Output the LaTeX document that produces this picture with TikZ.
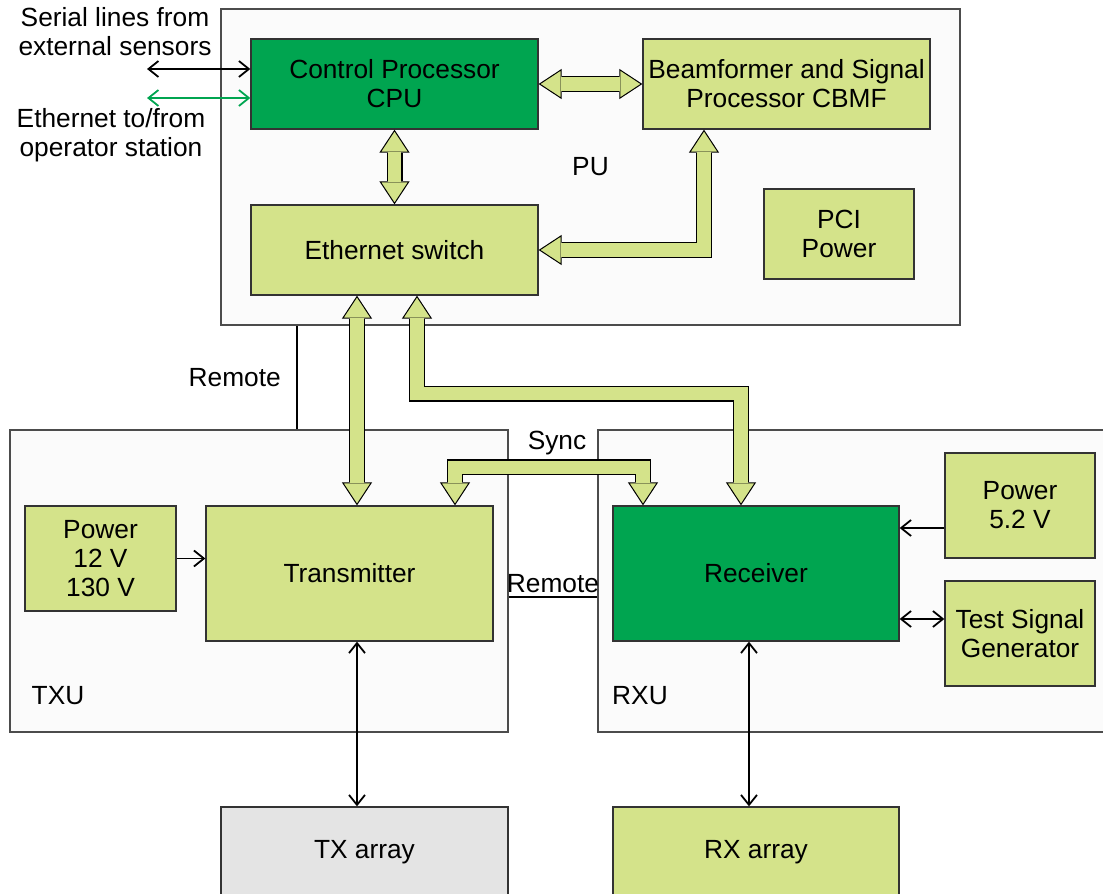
\documentclass[tikz,border=0pt]{standalone}
\usepackage{fontspec}
\setmainfont{Liberation Sans}
\usetikzlibrary{arrows.meta}

\definecolor{unitfill}{HTML}{FBFBFB}
\definecolor{leaf}{HTML}{D4E38A}
\definecolor{deep}{HTML}{00A550}
\definecolor{arraygrey}{HTML}{E4E4E4}

\tikzset{
  unit/.style={draw=black!70, fill=unitfill, line width=1.3pt, inner sep=0pt},
  block/.style={draw=black!80, fill=leaf, line width=1.3pt, inner sep=0pt, align=center},
  coreblock/.style={block, fill=deep},
  arrayblock/.style={block, fill=arraygrey},
  wire/.style={line width=1.8pt},
  bushead/.style={line width=1pt,
    {Triangle[width=30pt,length=23pt,fill=leaf]}-{Triangle[width=30pt,length=23pt,fill=leaf]}},
  busedge/.style={line width=16pt, shorten <=23.5pt, shorten >=23.5pt},
  buscore/.style={leaf, line width=13.6pt, shorten <=22.5pt, shorten >=22.5pt},
  >={Straight Barb[length=10pt,width=16pt]}
}

% wide double-headed bus arrow
\newcommand\fatlink[1]{%
  \draw[bushead] #1;
  \draw[busedge] #1;
  \draw[buscore] #1;}

\begin{document}
\begin{tikzpicture}[x=1pt,y=-1pt,font=\fontsize{26.3}{29}\selectfont]
    \useasboundingbox[fill=white] (0,0) rectangle (1103,894);

    % Units
    \node[unit, minimum width=739pt, minimum height=316pt] (pu) at (590.5,167) {PU};
    \node[unit, minimum width=498pt, minimum height=302pt] (txu) at (259,581) {};
    \node[unit, minimum width=512pt, minimum height=302pt] (rxu) at (854,581) {};
    \node at (58,696) {TXU};
    \node at (640,696) {RXU};

    % Processing unit
    \node[coreblock, minimum width=287pt, minimum height=90pt] (cpu) at (394.5,84) {Control Processor\\CPU};
    \node[block, minimum width=287pt, minimum height=90pt] (cbmf) at (786.5,84) {Beamformer and Signal\\Processor CBMF};
    \node[block, minimum width=287pt, minimum height=90pt] (sw) at (394.5,250) {Ethernet switch};
    \node[block, minimum width=150pt, minimum height=90pt] (pci) at (839,234) {PCI\\Power};

    % Transmitter unit
    \node[block, minimum width=151pt, minimum height=105pt] (ptx) at (100.5,558.5) {Power\\12 V\\130 V};
    \node[block, minimum width=287pt, minimum height=135pt] (tx) at (349.5,573.5) {Transmitter};

    % Receiver unit
    \node[coreblock, minimum width=286pt, minimum height=135pt] (rx) at (756,573.5) {Receiver};
    \node[block, minimum width=150pt, minimum height=105pt] (prx) at (1020,505.5) {Power\\5.2 V};
    \node[block, minimum width=150pt, minimum height=105pt] (tsg) at (1020,633.5) {Test Signal\\Generator};

    % Arrays
    \node[arrayblock, minimum width=287pt, minimum height=90pt] (txa) at (364.5,852) {TX array};
    \node[block, minimum width=286pt, minimum height=90pt] (rxa) at (756,852) {RX array};

    % External lines
    \node[align=center] (serialtxt) at (115,32) {Serial lines from\\external sensors};
    \node[align=center] (ethtxt) at (111,135) {Ethernet to/from\\operator station};
    \coordinate (serialend) at (147,69);
    \coordinate (ethend) at (147,98);
    \draw[wire,<->] (serialend) -- (serialend -| cpu.west);
    \draw[wire,deep,<->] (ethend) -- (ethend -| cpu.west);

    % Remote lines
    \draw[wire] ([xshift=38pt]txu.north) -- ([xshift=38pt]txu.north |- pu.south)
        node[midway, left=12pt] {Remote};
    \draw[wire] ([yshift=-16pt]txu.east) -- ([yshift=-16pt]txu.east -| rxu.west)
        node[midway, above] {Remote};

    % Buses
    \fatlink{(cpu.east) -- (cbmf.west)}
    \fatlink{(cpu.south) -- (sw.north)}
    \fatlink{([xshift=-82.5pt]cbmf.south) |- (sw.east)}
    \fatlink{([xshift=-37.5pt]sw.south) -- ([xshift=-37.5pt]sw.south |- tx.north)}
    \fatlink{([xshift=22.5pt]sw.south) -- ++(0,98) -| ([xshift=-15pt]rx.north)}
    \fatlink{([xshift=105.5pt]tx.north) -- ++(0,-38) -| ([xshift=-113pt]rx.north)}
    \node (synctxt) at (557,443) {Sync};

    % Power, test signal and arrays
    \draw[wire,->] (ptx.east) -- (ptx.east -| tx.west);
    \draw[wire,->] ([yshift=-22.5pt]prx.west) -- ([yshift=-22.5pt]prx.west -| rx.east);
    \draw[wire,<->] ([yshift=14.5pt]tsg.west) -- ([yshift=14.5pt]tsg.west -| rx.east);
    \draw[wire,<->] ([xshift=7.5pt]tx.south) -- ([xshift=7.5pt]tx.south |- txa.north);
    \draw[wire,<->] ([xshift=-7pt]rx.south) -- ([xshift=-7pt]rx.south |- rxa.north);
\end{tikzpicture}
\end{document}
